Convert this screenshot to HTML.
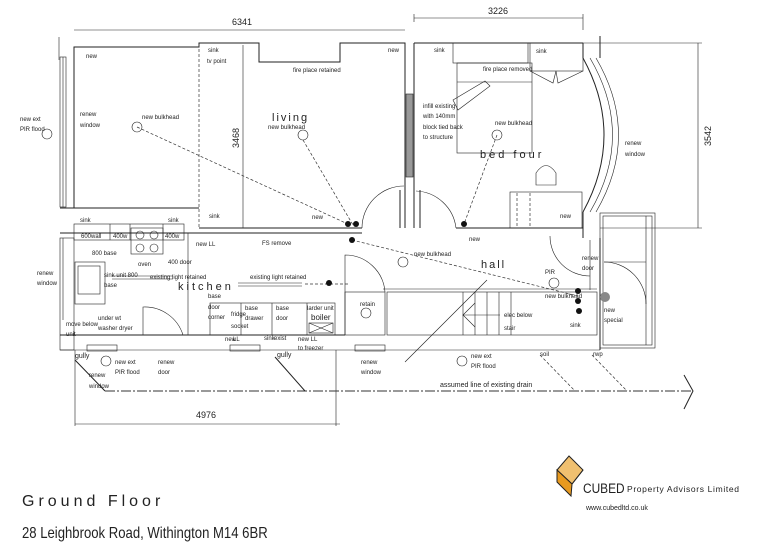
<!DOCTYPE html>
<html><head><meta charset="utf-8"><style>
html,body{margin:0;padding:0;background:#fff;}
svg{display:block;}
text{font-family:"Liberation Sans",sans-serif;fill:#222;}
.s{font-size:6px;}
.l{stroke:#222;stroke-width:1;fill:none;}
.t{stroke:#222;stroke-width:0.6;fill:none;}
.d{stroke:#333;stroke-width:0.7;fill:none;stroke-dasharray:3,2;}
</style></head><body>
<svg width="778" height="550" viewBox="0 0 778 550" xmlns="http://www.w3.org/2000/svg">
<!-- dimensions -->
<line class="t" x1="74" y1="30" x2="405" y2="30"/><text x="232" y="25" font-size="9">6341</text>
<line class="t" x1="414" y1="18" x2="583" y2="18"/><text x="488" y="14" font-size="9">3226</text>
<line class="t" x1="414" y1="14" x2="414" y2="22"/><line class="t" x1="583" y1="14" x2="583" y2="30"/>
<line class="t" x1="59" y1="37" x2="59" y2="60"/>
<line class="t" x1="698" y1="43" x2="698" y2="228"/><line class="t" x1="583" y1="43" x2="702" y2="43"/><line class="t" x1="600" y1="228" x2="702" y2="228"/>
<text x="711" y="146" font-size="9" transform="rotate(-90 711 146)">3542</text>
<line class="t" x1="243" y1="45" x2="243" y2="228"/>
<text x="239" y="148" font-size="9" transform="rotate(-90 239 148)">3468</text>
<line class="t" x1="75" y1="424" x2="340" y2="424"/><line class="t" x1="75" y1="350" x2="75" y2="426"/><line class="t" x1="336" y1="350" x2="336" y2="426"/>
<text x="196" y="418" font-size="9">4976</text>

<!-- living room -->
<polyline class="l" points="74,208 74,47 199,47 199,43 259,43 259,62 340,62 340,43 405,43 405,228"/>
<rect x="60" y="57" width="6" height="150" class="t"/><line class="t" x1="63" y1="57" x2="63" y2="207"/>
<line class="l" x1="60" y1="208" x2="199" y2="208"/>
<line class="d" x1="199" y1="44" x2="199" y2="228"/>
<line class="l" x1="199" y1="228" x2="362" y2="228"/>
<line class="l" x1="60" y1="233" x2="362" y2="233"/>
<path class="t" d="M362,228 A42,42 0 0 1 404,186"/>
<rect x="406" y="94" width="7" height="83" fill="#999" stroke="#222" stroke-width="0.6"/>
<line class="l" x1="414" y1="43" x2="414" y2="228"/>
<line class="l" x1="400" y1="190" x2="400" y2="228"/><line class="l" x1="420" y1="190" x2="420" y2="228"/>
<path class="t" d="M456,228 A42,42 0 0 0 416,191"/>
<!-- bed four -->
<line class="l" x1="414" y1="43" x2="583" y2="43"/>
<rect x="453" y="43" width="75" height="20" class="t"/><rect x="530" y="43" width="53" height="28" class="t"/>
<polyline class="t" points="530,71 553,83 556,71 558,83 583,71"/>
<rect x="457" y="63" width="75" height="90" class="t"/><line class="t" x1="457" y1="82" x2="532" y2="82"/>
<polygon class="t" points="453,100 485,81 490,86 458,110"/>
<line class="l" x1="456" y1="228" x2="583" y2="228"/>
<rect x="510" y="192" width="72" height="36" class="t"/><line class="d" x1="517" y1="193" x2="517" y2="226"/><line class="d" x1="530" y1="193" x2="530" y2="226"/>
<path class="t" d="M536,185 L536,173 Q546,158 556,173 L556,185 Z"/>
<path class="l" d="M583,58 Q625,135 583,212"/><path class="t" d="M590,58 Q635,135 590,212"/><path class="t" d="M596,58 Q641,135 596,212"/>
<line class="l" x1="583" y1="43" x2="583" y2="58"/><line class="l" x1="583" y1="212" x2="583" y2="238"/>
<line class="l" x1="600" y1="36" x2="600" y2="58"/>
<!-- porch -->
<rect x="600" y="213" width="55" height="135" class="t"/><rect x="603" y="216" width="49" height="129" class="t"/>
<line class="t" x1="646" y1="216" x2="646" y2="345"/>
<path class="t" d="M646,304 A42,42 0 0 0 604,262"/>
<line class="t" x1="604" y1="262" x2="646" y2="262"/>
<line class="l" x1="600" y1="238" x2="600" y2="350"/>
<circle cx="605" cy="297" r="5" fill="#888"/>
<!-- kitchen -->
<rect x="60" y="238" width="14" height="112" class="t"/><line class="t" x1="63" y1="238" x2="63" y2="320"/>
<rect x="74" y="224" width="110" height="16" class="t"/>
<line class="t" x1="110" y1="224" x2="110" y2="240"/><line class="t" x1="130" y1="224" x2="130" y2="240"/><line class="t" x1="163" y1="224" x2="163" y2="240"/>
<rect x="131" y="228" width="32" height="26" class="t"/><circle cx="140" cy="235" r="4" class="t"/><circle cx="154" cy="235" r="4" class="t"/><circle cx="140" cy="248" r="4" class="t"/><circle cx="154" cy="248" r="4" class="t"/>
<rect x="75" y="262" width="30" height="42" class="t"/><rect x="78" y="266" width="22" height="28" class="t"/>
<line class="t" x1="60" y1="350" x2="600" y2="350"/><line class="l" x1="60" y1="335" x2="345" y2="335"/>
<line class="t" x1="188" y1="233" x2="188" y2="335"/>
<rect x="210" y="303" width="125" height="32" class="t"/>
<line class="t" x1="241" y1="303" x2="241" y2="335"/><line class="t" x1="272" y1="303" x2="272" y2="335"/><line class="t" x1="307" y1="303" x2="307" y2="335"/>
<rect x="309" y="323" width="24" height="10" class="t"/><line class="t" x1="309" y1="323" x2="333" y2="333"/><line class="t" x1="333" y1="323" x2="309" y2="333"/>
<path class="t" d="M143,335 L143,307 A40,40 0 0 1 183,335"/>
<line class="t" x1="112" y1="276" x2="173" y2="276"/><line class="t" x1="112" y1="279" x2="173" y2="279"/>
<line class="t" x1="238" y1="283" x2="302" y2="283"/><line class="t" x1="238" y1="286" x2="302" y2="286"/>
<rect x="87" y="345" width="30" height="6" class="t"/><rect x="230" y="345" width="30" height="6" class="t"/><rect x="355" y="345" width="30" height="6" class="t"/>
<!-- hall -->
<path class="t" d="M345,335 L345,255 A40,40 0 0 1 385,292"/>
<rect x="345" y="292" width="40" height="43" class="t"/>
<rect x="387" y="292" width="210" height="43" class="t"/><line class="t" x1="383" y1="289" x2="597" y2="289"/>
<line class="t" x1="463" y1="292" x2="463" y2="335"/><line class="t" x1="475" y1="292" x2="475" y2="335"/><line class="t" x1="487" y1="292" x2="487" y2="335"/><line class="t" x1="499" y1="292" x2="499" y2="335"/><line class="t" x1="511" y1="292" x2="511" y2="335"/>
<polyline class="t" points="500,315 463,315 475,303 463,315 475,327"/>
<line class="t" x1="405" y1="362" x2="487" y2="280"/>
<path class="t" d="M550,236 A40,40 0 0 0 590,276"/><line class="t" x1="590" y1="240" x2="590" y2="290"/>
<!-- drain -->
<line stroke="#333" stroke-width="1" stroke-dasharray="10,2,2,2" x1="105" y1="391" x2="692" y2="391"/>
<polyline class="l" points="684,375 693,391 684,409"/>
<line class="l" x1="75" y1="360" x2="105" y2="391"/><line class="l" x1="275" y1="357" x2="305" y2="391"/>
<line class="d" x1="540" y1="355" x2="575" y2="391"/><line class="d" x1="592" y1="355" x2="627" y2="391"/>
<!-- dashed connectors -->
<line class="d" x1="137" y1="127" x2="350" y2="225"/><line class="d" x1="303" y1="140" x2="353" y2="225"/>
<line class="d" x1="497" y1="135" x2="464" y2="224"/><line class="d" x1="352" y1="240" x2="578" y2="296"/>
<line class="d" x1="305" y1="284" x2="350" y2="284"/>
<!-- lights -->
<g class="t">
<circle cx="137" cy="127" r="5"/><circle cx="303" cy="135" r="5"/><circle cx="497" cy="135" r="5"/><circle cx="403" cy="262" r="5"/><circle cx="366" cy="313" r="5"/><circle cx="47" cy="134" r="5"/><circle cx="106" cy="361" r="5"/><circle cx="462" cy="361" r="5"/><circle cx="554" cy="283" r="5"/>
</g>
<g fill="#111"><circle cx="348" cy="224" r="3"/><circle cx="356" cy="224" r="3"/><circle cx="352" cy="240" r="3"/><circle cx="464" cy="224" r="3"/><circle cx="329" cy="283" r="3"/><circle cx="578" cy="291" r="3"/><circle cx="578" cy="301" r="3"/><circle cx="579" cy="311" r="3"/></g>
<!-- labels -->
<text x="272" y="121" font-size="11" letter-spacing="2">living</text>
<text x="480" y="158" font-size="11" letter-spacing="3">bed four</text>
<text x="178" y="290" font-size="11" letter-spacing="3">kitchen</text>
<text x="481" y="268" font-size="11" letter-spacing="2">hall</text>
<g class="s">
<text x="86" y="58">new</text><text x="208" y="52">sink</text><text x="207" y="63">tv point</text><text x="293" y="72">fire place retained</text><text x="388" y="52">new</text>
<text x="20" y="121">new ext</text><text x="20" y="131">PIR flood</text><text x="80" y="116">renew</text><text x="80" y="127">window</text>
<text x="142" y="119">new bulkhead</text><text x="268" y="129">new bulkhead</text><text x="209" y="218">sink</text><text x="312" y="219">new</text>
<text x="434" y="52">sink</text><text x="536" y="53">sink</text><text x="483" y="71">fire place removed</text>
<text x="423" y="108">infill existing</text><text x="423" y="118">with 140mm</text><text x="423" y="129">block tied back</text><text x="423" y="139">to structure</text>
<text x="495" y="125">new bulkhead</text><text x="625" y="145">renew</text><text x="625" y="156">window</text><text x="560" y="218">new</text><text x="469" y="241">new</text>
<text x="80" y="222">sink</text><text x="168" y="222">sink</text><text x="81" y="238">600wall</text><text x="113" y="238">400w</text><text x="165" y="238">400w</text><text x="196" y="246">new LL</text>
<text x="92" y="255">800 base</text><text x="138" y="266">oven</text><text x="168" y="264">400 door</text><text x="262" y="245">FS remove</text>
<text x="37" y="275">renew</text><text x="37" y="285">window</text><text x="104" y="277">sink unit 800</text><text x="104" y="287">base</text>
<text x="150" y="279">existing light retained</text><text x="250" y="279">existing light retained</text>
<text x="208" y="298">base</text><text x="208" y="309">door</text><text x="208" y="319">corner</text><text x="231" y="316">fridge</text><text x="231" y="328">socket</text>
<text x="245" y="310">base</text><text x="245" y="320">drawer</text><text x="276" y="310">base</text><text x="276" y="320">door</text><text x="307" y="310">larder unit</text><text x="311" y="320" font-size="8">boiler</text>
<text x="66" y="326">move below</text><text x="66" y="336">unit</text><text x="98" y="320">under wt</text><text x="98" y="330">washer dryer</text>
<text x="225" y="341">new</text><text x="233" y="341">LL</text><text x="264" y="340">sink</text><text x="274" y="340">exist</text><text x="298" y="341">new LL</text><text x="298" y="350">to freezer</text>
<text x="75" y="358" font-size="7">gully</text><text x="277" y="357" font-size="7">gully</text><text x="115" y="364">new ext</text><text x="115" y="374">PIR flood</text><text x="158" y="364">renew</text><text x="158" y="374">door</text>
<text x="89" y="377">renew</text><text x="89" y="388">window</text><text x="361" y="364">renew</text><text x="361" y="374">window</text><text x="360" y="306">retain</text>
<text x="414" y="256">new bulkhead</text><text x="545" y="274">PIR</text><text x="545" y="298">new bulkhead</text><text x="582" y="260">renew</text><text x="582" y="270">door</text>
<text x="604" y="312">new</text><text x="604" y="322">special</text><text x="504" y="317">elec below</text><text x="504" y="330">stair</text><text x="570" y="327">sink</text>
<text x="471" y="358">new ext</text><text x="471" y="368">PIR flood</text><text x="540" y="356">soil</text><text x="593" y="356">rwp</text>
<text x="440" y="387" font-size="7">assumed line of existing drain</text>
</g>
<!-- title -->
<text x="22" y="506" font-size="16" letter-spacing="4">Ground Floor</text>
<text x="22" y="538" font-size="16" transform="translate(22 0) scale(0.82 1) translate(-22 0)">28 Leighbrook Road, Withington M14 6BR</text>
<!-- logo -->
<polygon points="569,456 583,470 572,484 557,470" fill="#f0c070" stroke="#222" stroke-width="1"/>
<polygon points="557,470 572,484 571,496 557,482" fill="#e89a20" stroke="#222" stroke-width="1"/>
<polyline points="572,484 583,470" class="l"/>
<text x="583" y="493" font-size="14" transform="translate(583 0) scale(0.85 1) translate(-583 0)">CUBED</text>
<text x="627" y="492" font-size="8.5" fill="#444" textLength="112">Property Advisors Limited</text>
<text x="586" y="510" font-size="7" fill="#444">www.cubedltd.co.uk</text>
</svg>
</body></html>
